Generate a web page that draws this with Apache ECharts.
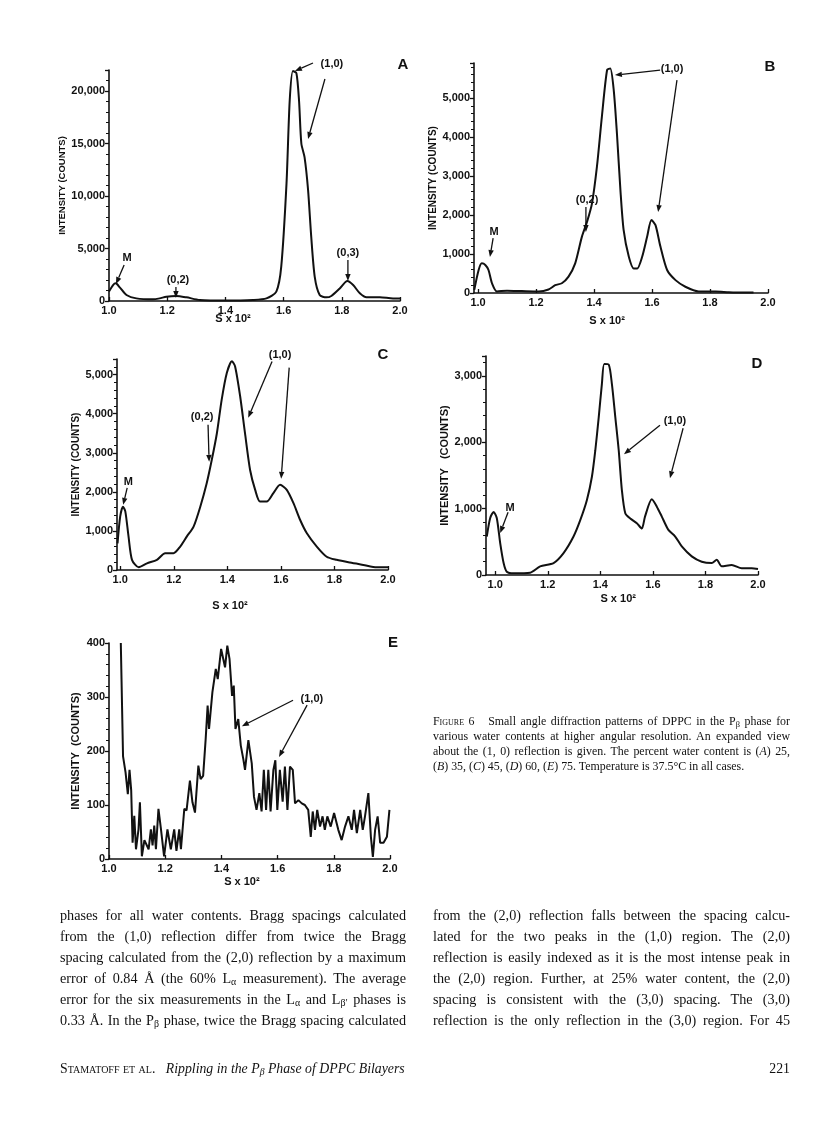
<!DOCTYPE html>
<html>
<head>
<meta charset="utf-8">
<script src="https://cdn.jsdelivr.net/npm/echarts@6/dist/echarts.min.js"></script>
<style>
  body { margin: 0; background: #fff; }
  #page { position: relative; width: 816px; height: 1134px; overflow: hidden; }
  #chart { position: absolute; left: 0; top: 0; width: 816px; height: 1134px; }
  .t { position: absolute; font-family: "Liberation Serif", "DejaVu Serif", serif; color: #111; }
  .cap { left: 433px; top: 714px; width: 357px; font-size: 11.9px; line-height: 15px; }
  .body { top: 905px; width: 346px; font-size: 14.2px; line-height: 21px; }
  .j { text-align: justify; text-align-last: justify; }
  .sc { font-variant: small-caps; }
  sub { font-size: 0.7em; vertical-align: -0.25em; line-height: 0; }
</style>
</head>
<body>
<div id="page">
  <div id="chart"></div>

  <div class="t cap">
    <div class="j"><span class="sc">Figure</span> 6&nbsp;&nbsp; Small angle diffraction patterns of DPPC in the P<sub>β</sub> phase for</div>
    <div class="j">various water contents at higher angular resolution. An expanded view</div>
    <div class="j">about the (1, 0) reflection is given. The percent water content is (<i>A</i>) 25,</div>
    <div>(<i>B</i>) 35, (<i>C</i>) 45, (<i>D</i>) 60, (<i>E</i>) 75. Temperature is 37.5°C in all cases.</div>
  </div>

  <div class="t body" style="left:60px">
    <div class="j">phases for all water contents. Bragg spacings calculated</div>
    <div class="j">from the (1,0) reflection differ from twice the Bragg</div>
    <div class="j">spacing calculated from the (2,0) reflection by a maximum</div>
    <div class="j">error of 0.84 Å (the 60% L<sub>α</sub> measurement). The average</div>
    <div class="j">error for the six measurements in the L<sub>α</sub> and L<sub>β′</sub> phases is</div>
    <div class="j">0.33 Å. In the P<sub>β</sub> phase, twice the Bragg spacing calculated</div>
  </div>
  <div class="t body" style="left:433px; width:357px">
    <div class="j">from the (2,0) reflection falls between the spacing calcu-</div>
    <div class="j">lated for the two peaks in the (1,0) region. The (2,0)</div>
    <div class="j">reflection is easily indexed as it is the most intense peak in</div>
    <div class="j">the (2,0) region. Further, at 25% water content, the (2,0)</div>
    <div class="j">spacing is consistent with the (3,0) spacing. The (3,0)</div>
    <div class="j">reflection is the only reflection in the (3,0) region. For 45</div>
  </div>

  <div class="t" style="left:60px; top:1060px; font-size:13.8px; line-height:18px;">
    <span class="sc">Stamatoff et al.</span>&nbsp;&nbsp; <i>Rippling in the P<sub>β</sub> Phase of DPPC Bilayers</i>
  </div>
  <div class="t" style="left:740px; width:50px; text-align:right; top:1060px; font-size:13.8px; line-height:18px;">221</div>
</div>

<script>
// tick labels on every S axis
const sTicks = [1.0, 1.2, 1.4, 1.6, 1.8, 2.0];

// A - 25% water
const aS = [1.0, 1.014, 1.023, 1.037, 1.06, 1.094, 1.151, 1.174, 1.197, 1.231, 1.266, 1.312, 1.403, 1.495, 1.541, 1.575, 1.592, 1.61, 1.621, 1.632, 1.644, 1.653, 1.661, 1.672, 1.684, 1.695, 1.707, 1.724, 1.747, 1.764, 1.793, 1.819, 1.839, 1.862, 1.885, 1.931, 1.976, 2.0];
const aI = [900, 1520, 1680, 1300, 570, 250, 160, 250, 410, 480, 350, 100, 40, 100, 250, 900, 3300, 11200, 19100, 21900, 21700, 19100, 15000, 13700, 10600, 6100, 2300, 570, 350, 480, 1200, 1900, 1520, 730, 350, 350, 250, 250];

// B - 35%
const bS = [0.987, 1.002, 1.013, 1.025, 1.036, 1.048, 1.065, 1.1, 1.151, 1.209, 1.243, 1.266, 1.289, 1.312, 1.335, 1.358, 1.376, 1.393, 1.41, 1.427, 1.445, 1.456, 1.468, 1.479, 1.491, 1.502, 1.52, 1.537, 1.549, 1.566, 1.583, 1.598, 1.612, 1.629, 1.652, 1.681, 1.715, 1.761, 1.819, 1.865, 1.911, 1.95];
const bI = [80, 590, 760, 720, 590, 250, 40, 60, 50, 40, 90, 200, 250, 420, 760, 1440, 1830, 2300, 3240, 4520, 5720, 5760, 5200, 4090, 2640, 1620, 930, 630, 630, 930, 1440, 1870, 1740, 1190, 590, 330, 160, 40, 40, 20, 10, 10];

// C - 45%
const cS = [0.99, 1.0, 1.01, 1.019, 1.031, 1.044, 1.069, 1.1, 1.137, 1.168, 1.199, 1.224, 1.249, 1.274, 1.299, 1.323, 1.342, 1.361, 1.379, 1.398, 1.417, 1.429, 1.448, 1.466, 1.485, 1.504, 1.522, 1.547, 1.572, 1.597, 1.622, 1.647, 1.672, 1.697, 1.734, 1.771, 1.808, 1.858, 1.908, 1.958, 2.0];
const cI = [680, 1370, 1620, 1500, 860, 260, 70, 170, 260, 430, 430, 600, 860, 1110, 1620, 2220, 2820, 3500, 4360, 5040, 5340, 5210, 4440, 3500, 2560, 2050, 1750, 1750, 1970, 2180, 2050, 1710, 1280, 940, 600, 340, 260, 190, 130, 70, 70];

// D - 60%
const dS = [0.968, 0.981, 0.994, 1.006, 1.019, 1.032, 1.044, 1.07, 1.133, 1.171, 1.222, 1.26, 1.298, 1.324, 1.349, 1.368, 1.381, 1.394, 1.406, 1.415, 1.432, 1.444, 1.457, 1.47, 1.482, 1.495, 1.514, 1.539, 1.558, 1.57, 1.596, 1.615, 1.634, 1.659, 1.685, 1.71, 1.748, 1.786, 1.824, 1.843, 1.862, 1.9, 1.938, 1.976, 2.0];
const dI = [580, 860, 950, 860, 480, 180, 50, 25, 35, 130, 180, 330, 580, 830, 1130, 1480, 1880, 2380, 2880, 3180, 3170, 2880, 2380, 1880, 1280, 930, 850, 780, 700, 880, 1140, 1030, 880, 680, 580, 430, 280, 200, 180, 230, 130, 150, 100, 100, 90];

// E - 75%
const eS = [1.042, 1.05, 1.059, 1.067, 1.073, 1.079, 1.084, 1.09, 1.096, 1.105,
  1.11, 1.117, 1.126, 1.141, 1.149, 1.155, 1.161, 1.167, 1.176, 1.185,
  1.196, 1.208, 1.22, 1.232, 1.24, 1.25, 1.256, 1.268, 1.276, 1.288,
  1.297, 1.306, 1.318, 1.326, 1.335, 1.344, 1.351, 1.356, 1.368, 1.38,
  1.387, 1.399, 1.406, 1.413, 1.421, 1.429, 1.438, 1.444, 1.45, 1.46,
  1.469, 1.478, 1.484, 1.496, 1.508, 1.516, 1.525, 1.535, 1.543, 1.551,
  1.559, 1.567, 1.575, 1.585, 1.592, 1.599, 1.608, 1.618, 1.626, 1.635,
  1.644, 1.654, 1.662, 1.674, 1.686, 1.697, 1.709, 1.718, 1.725, 1.733,
  1.741, 1.751, 1.76, 1.768, 1.777, 1.789, 1.801, 1.816, 1.828, 1.84,
  1.852, 1.864, 1.872, 1.882, 1.894, 1.903, 1.911, 1.923, 1.932, 1.939,
  1.947, 1.956, 1.965, 1.977, 1.989, 1.998];
const eI = [400, 190, 160, 120, 165, 127, 30, 80, 18, 55,
  105, 5, 35, 18, 55, 25, 62, 18, 93, 55,
  5, 55, 18, 55, 15, 55, 18, 93, 90, 145,
  105, 86, 173, 148, 154, 222, 284, 241, 309, 352,
  333, 389, 386, 355, 395, 370, 302, 321, 241, 259,
  210, 185, 165, 220, 177, 115, 91, 122, 88, 165,
  91, 165, 88, 165, 183, 91, 165, 106, 171, 91,
  171, 165, 103, 109, 103, 100, 91, 41, 88, 54,
  91, 60, 79, 54, 79, 60, 85, 54, 35, 60,
  79, 54, 91, 48, 91, 54, 79, 122, 41, 4,
  54, 79, 30, 30, 41, 91];

// labels and arrows, in data coordinates of each panel
const notes = [
  { g: 0, text: '(1,0)', at: [1.766, 22571] }, { g: 0, text: 'M', at: [1.062, 4095] },
  { g: 0, text: '(0,2)', at: [1.237, 2000] }, { g: 0, text: '(0,3)', at: [1.821, 4571] },
  { g: 0, text: 'A', at: [2.01, 22476], big: true }, { g: 0, text: 'S x 10²', at: [1.426, -1700] },
  { g: 1, text: '(1,0)', at: [1.669, 5744] }, { g: 1, text: '(0,2)', at: [1.376, 2385] },
  { g: 1, text: 'M', at: [1.055, 1564] }, { g: 1, text: 'B', at: [2.007, 5795], big: true },
  { g: 1, text: 'S x 10²', at: [1.445, -720] },
  { g: 2, text: '(1,0)', at: [1.597, 5513] }, { g: 2, text: '(0,2)', at: [1.306, 3923] },
  { g: 2, text: 'M', at: [1.03, 2256] }, { g: 2, text: 'C', at: [1.981, 5513], big: true },
  { g: 2, text: 'S x 10²', at: [1.41, -923] },
  { g: 3, text: '(1,0)', at: [1.684, 2316] }, { g: 3, text: 'M', at: [1.057, 1008] },
  { g: 3, text: 'D', at: [1.996, 3188], big: true }, { g: 3, text: 'S x 10²', at: [1.468, -360] },
  { g: 4, text: '(1,0)', at: [1.722, 296] }, { g: 4, text: 'E', at: [2.011, 400], big: true },
  { g: 4, text: 'S x 10²', at: [1.473, -43] }
];
const arrows = [
  { g: 0, from: [1.701, 22667], to: [1.639, 21905] }, { g: 0, from: [1.742, 21143], to: [1.684, 15429] },
  { g: 0, from: [1.052, 3429], to: [1.024, 1619] }, { g: 0, from: [1.23, 1333], to: [1.23, 286] },
  { g: 0, from: [1.821, 3905], to: [1.821, 1905] },
  { g: 1, from: [1.628, 5718], to: [1.472, 5590] }, { g: 1, from: [1.686, 5462], to: [1.621, 2077] },
  { g: 1, from: [1.372, 2205], to: [1.372, 1564] }, { g: 1, from: [1.052, 1410], to: [1.041, 923] },
  { g: 2, from: [1.567, 5333], to: [1.478, 3897] }, { g: 2, from: [1.631, 5179], to: [1.601, 2333] },
  { g: 2, from: [1.328, 3718], to: [1.332, 2769] }, { g: 2, from: [1.026, 2103], to: [1.011, 1667] },
  { g: 3, from: [1.627, 2256], to: [1.49, 1820] }, { g: 3, from: [1.715, 2211], to: [1.665, 1459] },
  { g: 3, from: [1.049, 947], to: [1.019, 632] },
  { g: 4, from: [1.655, 294], to: [1.473, 246] }, { g: 4, from: [1.705, 285], to: [1.605, 189] }
];

const INK = '#111';
const FONT = '"Liberation Sans", Arial, sans-serif';

// layout of each panel
const panels = [
  { s: aS, v: aI, left: 109, top: 70, width: 291, height: 231, xMin: 1.0, yMax: 22000, yStep: 5000, nameGap: 37, nameSize: 9.5, yName: 'INTENSITY (COUNTS)', smooth: 0.25 },
  { s: bS, v: bI, left: 474, top: 63, width: 294, height: 230, xMin: 0.986, yMax: 5900, yStep: 1000, nameGap: 29, nameSize: 10, yName: 'INTENSITY (COUNTS)', smooth: 0.25 },
  { s: cS, v: cI, left: 117, top: 359, width: 271, height: 211, xMin: 0.988, yMax: 5400, yStep: 1000, nameGap: 35, nameSize: 10, yName: 'INTENSITY (COUNTS)', smooth: 0.25 },
  { s: dS, v: dI, left: 486, top: 356, width: 272, height: 219, xMin: 0.965, yMax: 3300, yStep: 1000, nameGap: 30, nameSize: 11, yName: 'INTENSITY   (COUNTS)', smooth: 0.25 },
  { s: eS, v: eI, left: 109, top: 643, width: 281, height: 216, xMin: 1.0, yMax: 400, yStep: 100, nameGap: 28, nameSize: 11, yName: 'INTENSITY  (COUNTS)', smooth: false }
];

const chart = echarts.init(document.getElementById('chart'));

const option = {
  animation: false,
  backgroundColor: '#fff',
  grid: panels.map(p => ({ left: p.left, top: p.top, width: p.width, height: p.height, outerBoundsMode: 'none' })),
  xAxis: panels.map((p, i) => ({
    gridIndex: i, type: 'value', min: p.xMin, max: 2.0,
    axisLine: { show: true, onZero: false, lineStyle: { color: INK, width: 1.6 } },
    axisTick: { show: true, inside: true, length: 4, customValues: sTicks, lineStyle: { color: INK, width: 1.3 } },
    axisLabel: {
      customValues: sTicks, formatter: v => v.toFixed(1),
      color: INK, fontFamily: FONT, fontWeight: 'bold', fontSize: 11, margin: 4
    },
    splitLine: { show: false }
  })),
  yAxis: panels.map((p, i) => ({
    gridIndex: i, type: 'value', min: 0, max: p.yMax, interval: p.yStep,
    name: p.yName, nameLocation: 'middle', nameRotate: 90, nameGap: p.nameGap,
    nameTextStyle: { color: INK, fontFamily: FONT, fontWeight: 'bold', fontSize: p.nameSize },
    axisLine: { show: true, lineStyle: { color: INK, width: 1.6 } },
    axisTick: { show: true, length: 4, lineStyle: { color: INK, width: 1.3 } },
    minorTick: { show: true, splitNumber: 5, length: 3, lineStyle: { color: INK, width: 1 } },
    axisLabel: {
      formatter: v => (v % p.yStep ? '' : v.toLocaleString('en-US')),
      color: INK, fontFamily: FONT, fontWeight: 'bold', fontSize: 11, margin: 4
    },
    splitLine: { show: false }
  })),
  series: panels.map((p, i) => ({
    type: 'line', xAxisIndex: i, yAxisIndex: i,
    data: p.s.map((s, k) => [s, p.v[k]]),
    showSymbol: false, smooth: p.smooth, clip: true,
    lineStyle: { color: INK, width: 2 }
  }))
};
chart.setOption(option);

// annotations: converted from data coordinates after the grids exist
function head(x1, y1, x2, y2) {
  const L = Math.hypot(x2 - x1, y2 - y1), ux = (x2 - x1) / L, uy = (y2 - y1) / L;
  const bx = x2 - ux * 7, by = y2 - uy * 7;
  return { base: [bx, by], pts: [[x2, y2], [bx - uy * 2.7, by + ux * 2.7], [bx + uy * 2.7, by - ux * 2.7]] };
}
const elements = [];
notes.forEach(n => {
  const [x, y] = chart.convertToPixel({ gridIndex: n.g }, n.at);
  elements.push({
    type: 'text', x: x, y: y, z: 10,
    style: {
      text: n.text, fill: INK, align: 'center', verticalAlign: 'middle',
      font: (n.big ? 'bold 15px ' : 'bold 11px ') + FONT
    }
  });
});
arrows.forEach(a => {
  const [x1, y1] = chart.convertToPixel({ gridIndex: a.g }, a.from);
  const [x2, y2] = chart.convertToPixel({ gridIndex: a.g }, a.to);
  const h = head(x1, y1, x2, y2);
  elements.push({ type: 'line', z: 10, shape: { x1: x1, y1: y1, x2: h.base[0], y2: h.base[1] }, style: { stroke: INK, lineWidth: 1.3 } });
  elements.push({ type: 'polygon', z: 10, shape: { points: h.pts }, style: { fill: INK } });
});
chart.setOption({ graphic: { elements: elements } });
</script>
</body>
</html>
